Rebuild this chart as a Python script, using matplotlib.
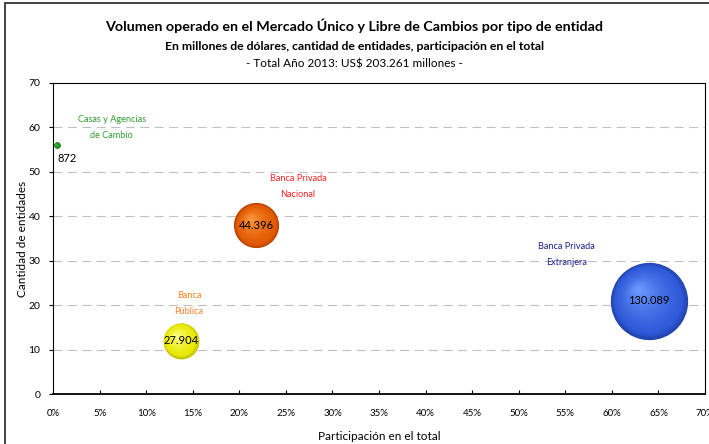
import matplotlib.pyplot as plt
import matplotlib.transforms as mtransforms
from matplotlib.patches import Rectangle
from matplotlib.ticker import FuncFormatter
import numpy as np

plt.rcParams['font.family'] = ['Lato', 'DejaVu Sans']

# Datos
entidades = ['Casas y Agencias\nde Cambio', 'Banca\nPública',
             'Banca Privada\nNacional', 'Banca Privada\nExtranjera']
volumen = [872, 27904, 44396, 130089]          # millones de US$
cantidad = [56, 12, 38, 21]                      # cantidad de entidades
total = 203261
participacion = [v / total * 100 for v in volumen]
valor_txt = ['872', '27.904', '44.396', '130.089']

# colores: base, luz, borde
base_col = ['#1c8a1c', '#e8e800', '#e05800', '#2c58d8']
luz_col = ['#3fbf3f', '#ffff90', '#ff9a40', '#6f9cff']
borde_col = ['#157015', '#c4c400', '#b84400', '#2446b0']
etiqueta_col = ['#2e9e2e', '#ff8020', '#ff2020', '#1f1f8f']
etiqueta_pos = [(6.3, 60.0), (14.6, 20.3), (26.3, 46.6), (55.1, 31.3)]

fig = plt.figure(figsize=(7.09, 4.44), dpi=100)
ax = fig.add_axes([0.0748, 0.1126, 0.9196, 0.7005])

k = 0.0238  # tamaño de burbuja proporcional al área


def mezcla(c1, c2, t):
    a = np.array(plt.matplotlib.colors.to_rgb(c1))
    b = np.array(plt.matplotlib.colors.to_rgb(c2))
    return a * (1 - t) + b * t


# burbujas con efecto de esfera
n = 25
for i in range(len(volumen)):
    s = volumen[i] * k
    r = np.sqrt(s) / 2  # radio en puntos
    ax.scatter(participacion[i], cantidad[i], s=s, color=borde_col[i], zorder=3, lw=0)
    for j in range(1, n):
        f = j / n
        off = mtransforms.offset_copy(ax.transData, fig=fig, x=-r * 0.3 * f, y=r * 0.3 * f, units='points')
        col = mezcla(base_col[i], luz_col[i], f ** 1.5) if f > 0.1 else mezcla(borde_col[i], base_col[i], f / 0.1)
        ax.scatter(participacion[i], cantidad[i], s=s * (1 - 0.97 * f) ** 2 * 0.98, color=col,
                   transform=off, zorder=3, lw=0)

# valores
for i in range(1, len(volumen)):
    ax.text(participacion[i], cantidad[i], valor_txt[i], ha='center', va='center', fontsize=8, zorder=5)
ax.text(participacion[0], cantidad[0] - 3.0, valor_txt[0], ha='left', va='center', fontsize=8, zorder=5)

# nombres
for i in range(len(entidades)):
    ax.text(etiqueta_pos[i][0], etiqueta_pos[i][1], entidades[i], ha='center', va='center',
            fontsize=6.6, color=etiqueta_col[i], linespacing=2.0)

ax.set_xlim(0, 70)
ax.set_ylim(0, 70)
ax.set_xticks(np.arange(0, 71, 5))
ax.set_yticks(np.arange(0, 71, 10))
ax.xaxis.set_major_formatter(FuncFormatter(lambda v, p: f'{v:.0f}%'))
ax.tick_params(axis='x', direction='in', length=3, labelsize=7, pad=11)
ax.tick_params(axis='y', direction='out', length=3, labelsize=7.5, pad=6)

for yv in range(10, 70, 10):
    ax.axhline(yv, color='#c0c0c0', lw=0.8, dashes=(8, 5), zorder=1)

for sp in ['top', 'right', 'left']:
    ax.spines[sp].set_linewidth(0.8)
ax.spines['bottom'].set_linewidth(1.3)

ax.set_xlabel('Participación en el total', fontsize=8.5, labelpad=9)
ax.set_ylabel('Cantidad de entidades', fontsize=8.5, va='center')
ax.yaxis.set_label_coords(-0.0475, 0.5)

fig.text(0.5, 1 - 26 / 444, 'Volumen operado en el Mercado Único y Libre de Cambios por tipo de entidad',
         ha='center', va='center', fontsize=10.3, fontweight='bold')
fig.text(0.5, 1 - 46 / 444, 'En millones de dólares, cantidad de entidades, participación en el total',
         ha='center', va='center', fontsize=8.8, fontweight='bold')
fig.text(0.5, 1 - 64 / 444, '- Total Año 2013: US$ 203.261 millones -',
         ha='center', va='center', fontsize=8.5)

# marco exterior
fig.patches.append(Rectangle((5 / 709, -0.1), 1.2, 1 - 3 / 444 + 0.1, transform=fig.transFigure,
                             fill=False, lw=1.2, edgecolor='#222222'))

fig.savefig('out.png', dpi=100)
